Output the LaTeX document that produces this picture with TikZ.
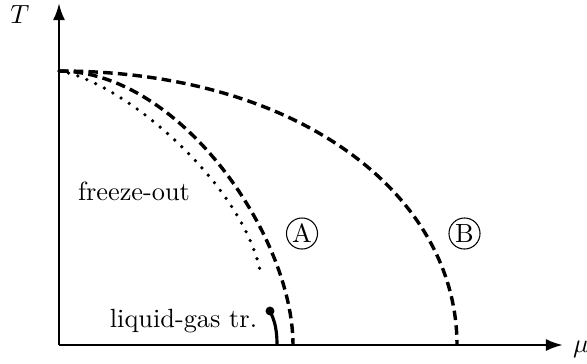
\documentclass[tikz,border=0pt]{standalone}
\usepackage{tikz}
\usetikzlibrary{arrows.meta,positioning}

\begin{document}
\begin{tikzpicture}[
  x=0.38pt, y=0.38pt,
  axis/.style={line width=1pt, -{Latex[length=6.5pt, width=4.6pt]}},
  boundary/.style={line width=1.3pt, dash pattern=on 3.6pt off 2pt},
  freeze/.style={line width=1.4pt, line cap=round, dash pattern=on 0pt off 3.7pt},
  region/.style={draw, circle, thin, inner sep=0pt, minimum size=11.8pt}
]
\useasboundingbox (-59,-18) rectangle (528,345);

% axes
\coordinate (O) at (0,0);
\coordinate (Ttop) at (0,342);
\coordinate (muend) at (504,0);
\draw[axis] (O) -- (Ttop);
\draw[axis] (O) -- (muend);
\node (Tlab) at (-39,330) {$T$};
\node (mulab) at (522,-4) {$\mu$};

% phase boundaries
\coordinate (Tc) at (0,274);
\coordinate (muA) at (234,0);
\coordinate (muB) at (398,0);
\coordinate (fend) at (201,75);
\draw[boundary] (Tc) .. controls (120,274) and (234,110) .. (muA);
\draw[boundary] (Tc) .. controls (240,274) and (398,150) .. (muB);
\draw[freeze] (Tc) .. controls (61,265) and (181,165) .. (fend);

% liquid-gas transition
\coordinate (lgbot) at (218,0);
\coordinate (cep) at (211,34);
\draw[line width=1.2pt] (lgbot) .. controls (218,20) and (214,27) .. (cep);
\fill (cep) circle (1.7pt);

% labels
\node[anchor=base] (fo) at (75,145) {freeze-out};
\node[anchor=base] (lg) at (124.5,18) {liquid-gas tr.};
\node[region] (A) at (243,111.5) {A};
\node[region] (B) at (405.5,111.5) {B};
\end{tikzpicture}
\end{document}
